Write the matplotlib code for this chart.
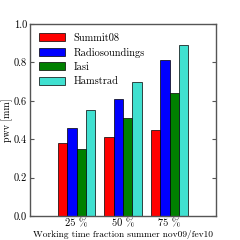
import matplotlib
matplotlib.use("Agg")
import matplotlib.pyplot as plt
import numpy as np

# data
groups = ["25 %", "50 %", "75 %"]
series = ["Summit08", "Radiosoundings", "Iasi", "Hamstrad"]
summit08 = [0.38, 0.41, 0.45]
radiosoundings = [0.46, 0.61, 0.81]
iasi = [0.35, 0.51, 0.64]
hamstrad = [0.55, 0.70, 0.89]
colors = ["red", "blue", "green", "turquoise"]

plt.rcParams["font.family"] = ["cmr10", "DejaVu Serif"]
plt.rcParams["axes.unicode_minus"] = False
plt.rcParams["axes.formatter.use_mathtext"] = True

fig = plt.figure(figsize=(2.4, 2.4), dpi=100)
ax = fig.add_axes([0.125, 0.1, 0.775, 0.8])

ind = np.arange(1, len(groups) + 1)
width = 0.2
for i, (name, vals) in enumerate(zip(series, [summit08, radiosoundings, iasi, hamstrad])):
    ax.bar(ind - 0.4 + i * width, vals, width, align="edge",
           color=colors[i], edgecolor="black", linewidth=0.5, label=name)

ax.set_xlim(0, 4)
ax.set_ylim(0, 1.0)
ax.set_xticks(ind)
ax.set_xticklabels(groups)
ax.set_yticks([0.0, 0.2, 0.4, 0.6, 0.8, 1.0])
ax.set_yticklabels(["0.0", "0.2", "0.4", "0.6", "0.8", "1.0"])
ax.tick_params(axis="x", length=0, labelsize=7.5, pad=2)
ax.tick_params(axis="y", direction="in", length=3, labelsize=7.5, pad=2,
               right=True, color="#555555")
ax.set_xlabel("Working time fraction summer nov09/fev10", fontsize=6.8, labelpad=1)
ax.set_ylabel("pwv [mm]", fontsize=7.2, labelpad=1)
for s in ax.spines.values():
    s.set_color("#555555")
    s.set_linewidth(1.0)

ax.legend(loc="upper left", frameon=False, fontsize=7.5, handlelength=2.5,
          handleheight=0.8, labelspacing=0.45, handletextpad=0.8,
          borderaxespad=0.5)

fig.savefig("out.png", dpi=100)
